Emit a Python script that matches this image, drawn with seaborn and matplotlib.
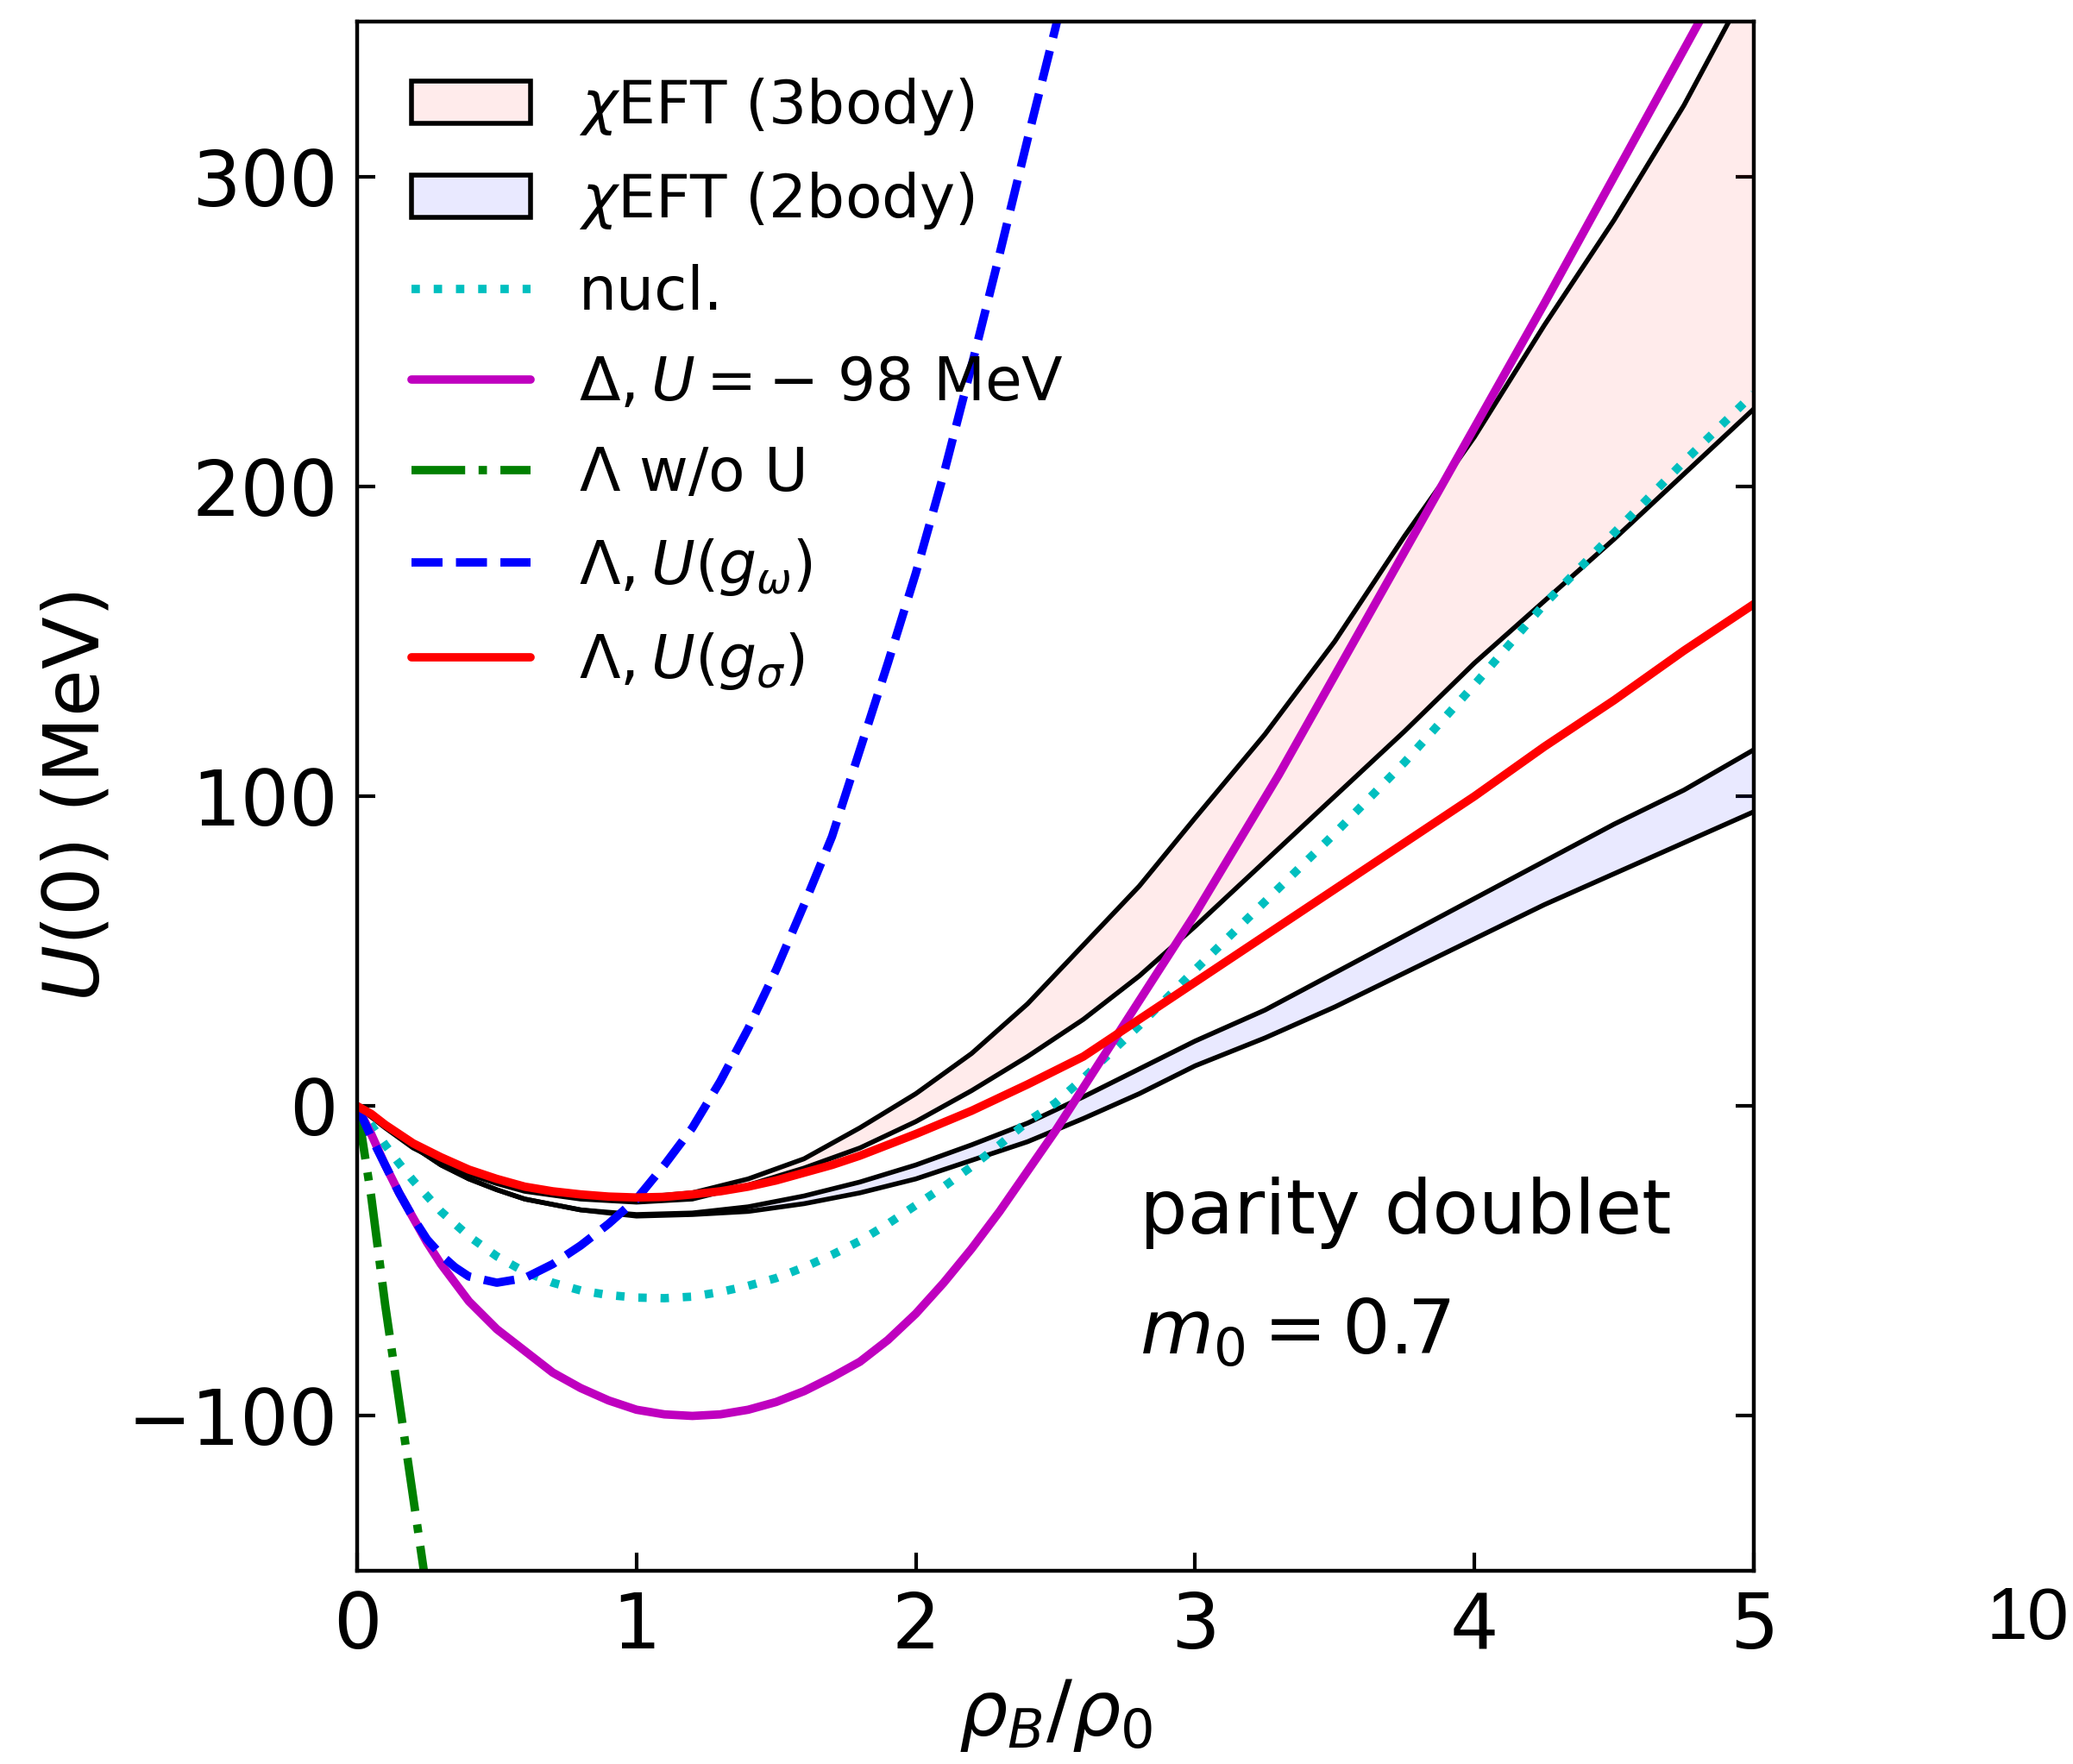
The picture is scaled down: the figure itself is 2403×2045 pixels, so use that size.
import matplotlib
matplotlib.use("Agg")
import matplotlib.pyplot as plt
import seaborn as sns
import pandas as pd
from matplotlib.patches import Patch
from matplotlib.lines import Line2D

# baryon density in units of saturation density (grid of the chiral EFT bands)
rho = [0, 0.05, 0.1, 0.2, 0.3, 0.4, 0.5, 0.6, 0.8, 1.0, 1.2, 1.4, 1.6, 1.8,
       2.0, 2.2, 2.4, 2.6, 2.8, 3.0, 3.25, 3.5, 3.75, 4.0, 4.25, 4.5, 4.75, 5.0]

# chiral EFT bands (MeV)
eft3_upper = [0, -3, -6.5, -12.5, -17, -21, -24, -26.5, -29, -29.5, -28, -23.5, -17, -7,
              4, 17, 33, 52, 71, 93, 120, 150, 184, 216, 252, 286, 323, 365]
eft3_lower = [0, -3.5, -7, -13.5, -18, -22, -25, -27.5, -30, -31, -30, -25.5, -20, -13.5,
              -5, 5, 16, 28, 42, 58, 79, 100, 121, 143, 163, 183, 204, 225]
eft2_upper = [0, -3, -6.5, -13, -19, -23.5, -27, -30, -33.5, -35, -34.5, -32.5, -29, -24.5,
              -19, -12.5, -5.5, 3, 12, 21, 31, 43, 55, 67, 79, 91, 102, 115]
eft2_lower = [0, -3, -6.5, -13, -19, -23.5, -27, -30, -33.5, -35.5, -35, -34, -31.5, -28,
              -23.5, -17.5, -11.5, -4, 4, 13, 22, 32, 43, 54, 65, 75, 85, 95]

# nucleon potential
rho_nucl = [0, 0.05, 0.1, 0.15, 0.2, 0.3, 0.4, 0.5, 0.6, 0.7, 0.8, 0.9, 1.0, 1.1, 1.2,
            1.3, 1.4, 1.5, 1.6, 1.7, 1.8, 1.9, 2.0, 2.1, 2.2, 2.3, 2.4, 2.5, 2.6, 2.7,
            2.8, 2.9, 3.0, 3.25, 3.5, 3.75, 4.0, 4.25, 4.5, 4.75, 5.0]
u_nucl = [0, -6, -12.5, -18.5, -24, -34, -42, -48.5, -53.5, -57, -59.5, -61, -61.8, -62, -61.5,
          -60, -58, -55.5, -52, -48, -43.5, -38, -32, -26, -19.5, -12.5, -5, 1, 9, 17.5,
          26, 35, 44, 66, 88, 111, 136, 162, 185, 208, 230]

# Delta potential
rho_delta = [0, 0.05, 0.1, 0.15, 0.2, 0.25, 0.3, 0.4, 0.5, 0.6, 0.7, 0.8, 0.9, 1.0, 1.1,
             1.2, 1.3, 1.4, 1.5, 1.6, 1.7, 1.8, 1.9, 2.0, 2.1, 2.2, 2.3, 2.4, 2.5, 2.6,
             2.7, 2.8, 2.9, 3.0, 3.1, 3.2, 3.3, 3.5, 3.75, 4.0, 4.25, 4.5, 4.75, 5.0]
u_delta = [0, -9, -19, -28, -36, -44, -51, -63, -72, -79, -86, -91, -95, -98, -99.5,
           -100, -99.5, -98, -95.5, -92, -87.5, -82.5, -75.5, -67, -57, -46, -34, -21, -8, 6,
           20, 34, 48, 62, 77, 92, 107, 139, 179, 219, 259, 300, 341, 382]

# Lambda potential with the sigma coupling
rho_sigma = [0, 0.05, 0.1, 0.15, 0.2, 0.3, 0.4, 0.5, 0.6, 0.7, 0.8, 0.9, 1.0, 1.1, 1.2,
             1.3, 1.4, 1.5, 1.6, 1.7, 1.8, 1.9, 2.0, 2.2, 2.4, 2.6, 2.8, 3.0, 3.25, 3.5,
             3.75, 4.0, 4.25, 4.5, 4.75, 5.0]
u_lam_sigma = [0, -2.5, -6, -9, -12, -16.5, -20.5, -23.5, -26, -27.5, -28.5, -29.2, -29.5,
               -29.3, -28.5, -27.5, -26, -24, -21.5, -19, -16, -12.5, -9, -1.5, 7, 16, 28,
               40, 55, 70, 85, 100, 116, 131, 147, 162]

# Lambda potential with the omega coupling
rho_omega = [0, 0.05, 0.1, 0.15, 0.2, 0.25, 0.3, 0.35, 0.4, 0.5, 0.6, 0.7, 0.8, 0.9, 1.0,
             1.1, 1.2, 1.3, 1.4, 1.5, 1.6, 1.7, 1.8, 1.9, 2.0, 2.1, 2.2, 2.3, 2.4, 2.5, 2.6]
u_lam_omega = [0, -10, -19, -28, -36, -43, -48, -52, -55, -57, -55.5, -51, -45, -38, -30,
               -19, -7, 8, 25, 44, 65, 87, 115, 143, 172, 204, 239, 275, 312, 348, 386]

# Lambda without potential
rho_free = [0, 0.05, 0.1, 0.15, 0.2, 0.25]
u_lam_free = [0, -29, -64, -95, -126, -157]

labels = [r"$\chi$EFT (3body)", r"$\chi$EFT (2body)", "nucl.",
          r"$\Delta, U = -$ 98 MeV", r"$\Lambda$ w/o U",
          r"$\Lambda, U(g_\omega)$", r"$\Lambda, U(g_\sigma)$"]

sns.set_style("white")
plt.rcParams["font.family"] = ["DejaVu Sans"]
plt.rcParams["mathtext.fontset"] = "dejavusans"
for key in ["text.color", "axes.labelcolor", "xtick.color", "ytick.color",
            "axes.edgecolor"]:
    plt.rcParams[key] = "black"

fig = plt.figure(figsize=(24.03, 20.45), dpi=100)
ax = fig.add_axes([0.1723, 0.1095, 0.6737, 0.8782])

band = pd.DataFrame({"rho": rho, "u3": eft3_upper, "l3": eft3_lower,
                     "u2": eft2_upper, "l2": eft2_lower})

fill3 = (1.0, 0.0, 0.0, 0.08)
fill2 = (0.0, 0.0, 1.0, 0.085)
ax.fill_between(band["rho"], band["l3"], band["u3"], color=fill3, lw=0)
ax.fill_between(band["rho"], band["l2"], band["u2"], color=fill2, lw=0)

edge_lw = 4.0
for col in ["u3", "l3", "u2", "l2"]:
    sns.lineplot(data=band, x="rho", y=col, color="k", lw=edge_lw, ax=ax,
                 estimator=None, sort=False)

lw = 7.0
sns.lineplot(x=rho_nucl, y=u_nucl, color="c", lw=lw, linestyle=":", ax=ax,
             estimator=None, sort=False)
sns.lineplot(x=rho_delta, y=u_delta, color="m", lw=lw, ax=ax,
             estimator=None, sort=False)
sns.lineplot(x=rho_free, y=u_lam_free, color="g", lw=lw, linestyle="-.", ax=ax,
             estimator=None, sort=False)
sns.lineplot(x=rho_omega, y=u_lam_omega, color="b", lw=lw, linestyle="--", ax=ax,
             estimator=None, sort=False)
sns.lineplot(x=rho_sigma, y=u_lam_sigma, color="r", lw=lw, ax=ax,
             estimator=None, sort=False)

ax.set_xlim(0, 5)
ax.set_ylim(-150, 350)
ax.set_xticks([0, 1, 2, 3, 4, 5])
ax.set_yticks([-100, 0, 100, 200, 300])
ax.set_xticklabels(["0", "1", "2", "3", "4", "5"])
ax.set_yticklabels(["\u2212100", "0", "100", "200", "300"])

for s in ax.spines.values():
    s.set_linewidth(3.2)
    s.set_color("k")
ax.tick_params(direction="in", length=15, width=3, labelsize=64, pad=16,
               left=True, right=True, bottom=True, top=False, colors="k")

ax.set_xlabel(r"$\rho_B/\rho_0$", fontsize=64, labelpad=10)
ax.set_ylabel(r"$U(0)$ (MeV)", fontsize=64, labelpad=10)

handles = [
    Patch(facecolor=fill3, edgecolor="k", lw=4),
    Patch(facecolor=fill2, edgecolor="k", lw=4),
    Line2D([], [], color="c", lw=lw, linestyle=":"),
    Line2D([], [], color="m", lw=lw),
    Line2D([], [], color="g", lw=lw, linestyle="-."),
    Line2D([], [], color="b", lw=lw, linestyle="--"),
    Line2D([], [], color="r", lw=lw),
]
ax.legend(handles=handles, labels=labels, loc="upper left", frameon=False,
          fontsize=50, labelspacing=0.55)

ax.text(2.8, -41, "parity doublet", fontsize=63, va="baseline", ha="left")
ax.text(2.8, -80, r"$m_0 = 0.7$", fontsize=63, va="baseline", ha="left")

fig.text(0.978, 0.071, "10", fontsize=62, ha="center", va="baseline",
         family=["Liberation Sans", "DejaVu Sans"])

fig.savefig("out.png", dpi=100)
